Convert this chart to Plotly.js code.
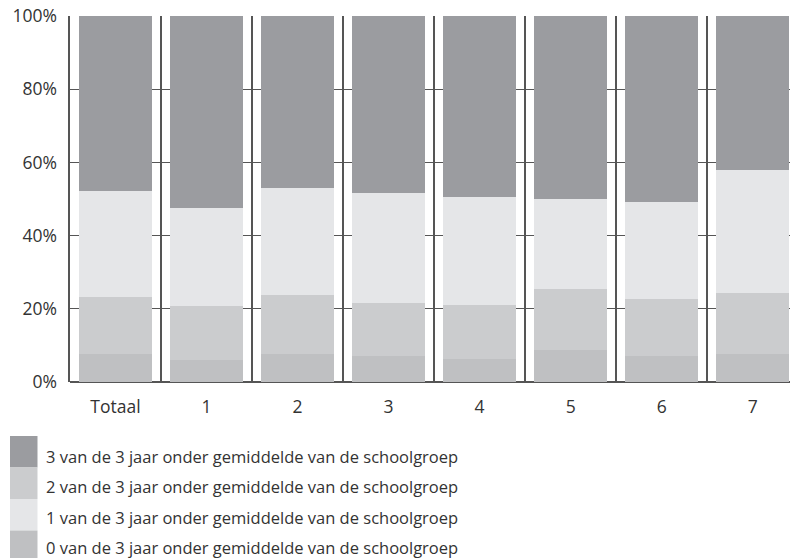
<!DOCTYPE html>
<html>
<head>
<meta charset="utf-8">
<script src="https://cdn.plot.ly/plotly-3.0.1.min.js"></script>
<style>html,body{margin:0;padding:0;background:#fff}#chart{width:790px;height:558px}</style>
</head>
<body>
<div id="chart"></div>
<script>
var categories = ["Totaal", "1", "2", "3", "4", "5", "6", "7"];
var seriesNames = [
  "0 van de 3 jaar onder gemiddelde van de schoolgroep",
  "1 van de 3 jaar onder gemiddelde van de schoolgroep",
  "2 van de 3 jaar onder gemiddelde van de schoolgroep",
  "3 van de 3 jaar onder gemiddelde van de schoolgroep"
];
var zero  = [7.6, 6.0, 7.6, 7.1, 6.3, 8.7, 7.1, 7.6];
var two   = [15.6, 14.8, 16.2, 14.5, 14.7, 16.7, 15.6, 16.7];
var one   = [29.0, 26.7, 29.2, 30.0, 29.5, 24.6, 26.5, 33.6];
var three = [47.8, 52.5, 47.0, 48.4, 49.5, 50.0, 50.8, 42.1];
var colors = ["#bfc0c2", "#e5e6e8", "#cbccce", "#9b9ca0"];

// stacking order: 0 (bottom), 2, 1, 3 (top)
var stackOrder = [
  {name: seriesNames[0], y: zero, color: colors[0]},
  {name: seriesNames[2], y: two, color: colors[2]},
  {name: seriesNames[1], y: one, color: colors[1]},
  {name: seriesNames[3], y: three, color: colors[3]}
];

var traces = stackOrder.map(function(s){
  return {type: "bar", x: categories, y: s.y, name: s.name,
          marker: {color: s.color, line: {width: 0}}, hoverinfo: "none"};
});

var fontFam = "'Open Sans', 'Noto Sans', sans-serif";
var L = 70, T = 16, W = 720, H = 366;

// custom legend (top to bottom: 3, 2, 1, 0)
var legendOrder = [
  {name: seriesNames[3], color: colors[3]},
  {name: seriesNames[2], color: colors[2]},
  {name: seriesNames[1], color: colors[1]},
  {name: seriesNames[0], color: colors[0]}
];
var shapes = [], annotations = [];
function px(x){ return (x - L) / W; }
function py(y){ return (T + H - y) / H; }
legendOrder.forEach(function(s, i){
  var top = 436 + i * 31.5;
  shapes.push({type: "rect", xref: "paper", yref: "paper",
    x0: px(10), x1: px(37.5), y0: py(top), y1: py(top + 31.5),
    fillcolor: s.color, line: {width: 0}, layer: "above"});
  annotations.push({xref: "paper", yref: "paper", x: px(44), y: py(456 + i * 30.5),
    xanchor: "left", yanchor: "middle", showarrow: false, text: s.name,
    font: {family: fontFam, size: 16.5, color: "#333"}});
});

var layout = {
  width: 790, height: 558,
  margin: {l: L, r: 0, t: T, b: 558 - T - H, pad: 0},
  paper_bgcolor: "#fff", plot_bgcolor: "#fff",
  barmode: "stack", bargap: 0.2,
  showlegend: false,
  font: {family: fontFam, color: "#333"},
  xaxis: {
    type: "category", range: [-0.5, 7.41], fixedrange: true,
    tickson: "boundaries", showgrid: true, gridcolor: "#555", gridwidth: 1.6,
    ticks: "", showline: false, zeroline: false, ticklabelstandoff: 12,
    tickfont: {family: fontFam, size: 17.5, color: "#333"}
  },
  yaxis: {
    range: [0, 100], tickvals: [0, 20, 40, 60, 80, 100],
    ticktext: ["0%", "20%", "40%", "60%", "80%", "100%"],
    showgrid: true, gridcolor: "#555", gridwidth: 1.4,
    showline: true, linecolor: "#555", linewidth: 1.6,
    zeroline: true, zerolinecolor: "#555", zerolinewidth: 1.6,
    ticks: "", ticklen: 0, ticklabelstandoff: 8,
    tickfont: {family: fontFam, size: 17.5, color: "#333"}
  },
  shapes: shapes,
  annotations: annotations
};

Plotly.newPlot("chart", traces, layout, {staticPlot: true, displayModeBar: false});
</script>
</body>
</html>
